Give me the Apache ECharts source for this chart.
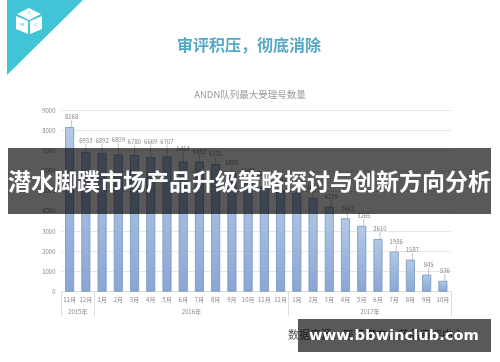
<!DOCTYPE html>
<html>
<head>
<meta charset="utf-8">
<style>
  html, body { margin: 0; padding: 0; background: #fff; }
  #chart { width: 500px; height: 362px; filter: blur(0.4px); }
</style>
<script src="https://cdn.jsdelivr.net/npm/echarts@6/dist/echarts.min.js"></script>
</head>
<body>
<div id="chart"></div>
<script>
const months = ['11月', '12月', '1月', '2月', '3月', '4月', '5月', '6月', '7月', '8月', '9月', '10月',
  '11月', '12月', '1月', '2月', '3月', '4月', '5月', '6月', '7月', '8月', '9月', '10月'];
const counts = [8168, 6933, 6892, 6809, 6780, 6669, 6707, 6454, 6450, 6331, 5885, 5507,
  5220, 5047, 4897, 4650, 4219, 3642, 3265, 2610, 1986, 1587, 845, 536];
const years = ['2015年', '2016年', '2017年'];
const yearStarts = [0, 2, 14, 24];

// extra lift for labels that sit higher than the rest, by bar index
const labelLift = { 1: 3, 2: 4, 3: 7, 4: 5, 5: 8, 6: 7, 7: 5, 12: 5 };

const chart = echarts.init(document.getElementById('chart'));
const cjk = '"Noto Sans CJK SC", sans-serif';

const yearMid = yearStarts.slice(0, -1).map((s, i) => (s + yearStarts[i + 1]) / 2);

chart.setOption({
  animation: false,
  backgroundColor: '#fff',
  title: [
    {
      text: '审评积压，彻底消除', left: 244, top: 32, textAlign: 'center',
      textStyle: { fontFamily: cjk, fontSize: 16, fontWeight: 'bold', color: '#55a8c6' }
    },
    {
      text: 'ANDN队列最大受理号数量', left: 245, top: 85, textAlign: 'center',
      textStyle: { fontFamily: cjk, fontSize: 9.5, fontWeight: 'normal', color: '#999' }
    }
  ],
  grid: { left: 61.5, right: 49, top: 110.3, bottom: 70.3 },
  xAxis: [
    {
      type: 'category',
      data: months,
      axisLine: { lineStyle: { color: '#ddd' } },
      axisTick: { show: false },
      axisLabel: { interval: 0, fontFamily: cjk, fontSize: 6, color: '#888', margin: 5 }
    },
    {
      // second row of the axis: year groups
      type: 'value',
      position: 'bottom',
      min: 0,
      max: 24,
      splitLine: { show: false },
      axisLine: { show: false },
      axisTick: { show: true, customValues: yearStarts, length: 25, lineStyle: { color: '#ddd' } },
      axisLabel: {
        customValues: yearMid,
        formatter: (v) => years[yearMid.indexOf(v)],
        fontFamily: cjk, fontSize: 6, color: '#888', margin: 17,
        showMinLabel: true, showMaxLabel: true
      }
    }
  ],
  yAxis: {
    type: 'value',
    min: 0,
    max: 9000,
    interval: 1000,
    axisLine: { show: false },
    axisTick: { show: false },
    axisLabel: {
      formatter: (v) => String(v),
      fontFamily: cjk, fontSize: 6, color: '#888', margin: 6
    },
    splitLine: { lineStyle: { color: '#e6e6e6' } }
  },
  series: [{
    type: 'bar',
    data: counts,
    barWidth: 9,
    itemStyle: {
      borderColor: '#7396c0',
      borderWidth: 0.8,
      color: new echarts.graphic.LinearGradient(0, 0, 0, 1, [
        { offset: 0, color: '#b3c9e6' },
        { offset: 1, color: '#8aa6d4' }
      ])
    },
    label: {
      show: true, position: 'top', distance: 5,
      fontFamily: cjk, fontSize: 6, color: '#888'
    },
    labelLine: { show: true, lineStyle: { color: '#aaa', width: 0.7 } },
    labelLayout: (p) => ({
      dy: -(labelLift[p.dataIndex] || 2),
      dx: p.dataIndex >= 16 || p.dataIndex === 0 ? 2 : 0
    })
  }],
  graphic: [
    // corner badge
    { type: 'polygon', z: 100, shape: { points: [[7, 0], [83, 0], [7, 75]] }, style: { fill: '#40c4d6' } },
    { type: 'polygon', z: 101, shape: { points: [[29, 8], [41, 14], [29, 20], [17, 14]] }, style: { fill: '#fff' } },
    { type: 'polygon', z: 101, shape: { points: [[16, 16], [28, 21], [28, 34], [16, 29]] }, style: { fill: '#fff' } },
    { type: 'polygon', z: 101, shape: { points: [[42, 16], [30, 21], [30, 34], [42, 29]] }, style: { fill: '#fff' } },
    { type: 'text', z: 102, style: { x: 29, y: 13, text: 'A', fill: '#40c4d6', font: '5px "Liberation Serif"', align: 'center', verticalAlign: 'middle' } },
    { type: 'text', z: 102, style: { x: 22, y: 25, text: 'M', fill: '#40c4d6', font: '5px "Liberation Serif"', align: 'center', verticalAlign: 'middle' } },
    { type: 'text', z: 102, style: { x: 36, y: 25, text: 'C', fill: '#40c4d6', font: '5px "Liberation Serif"', align: 'center', verticalAlign: 'middle' } },
    // source line, mostly hidden by the url box
    { type: 'text', z: 50, style: { x: 288, y: 335, text: '数据来源：医药魔方，药品审评中心', fill: '#555', font: '11px "Noto Sans CJK SC"', verticalAlign: 'middle' } },
    // headline band
    { type: 'rect', z: 110, shape: { x: 8, y: 148, width: 483, height: 66 }, style: { fill: 'rgba(0,0,0,0.65)' } },
    { type: 'text', z: 111, style: { x: 249.5, y: 181, text: '潜水脚蹼市场产品升级策略探讨与创新方向分析', fill: '#fff', font: 'bold 23px "Noto Sans CJK SC"', align: 'center', verticalAlign: 'middle' } },
    // url box
    { type: 'rect', z: 110, shape: { x: 298, y: 319, width: 193, height: 33 }, style: { fill: 'rgba(0,0,0,0.65)' } },
    { type: 'text', z: 111, style: { x: 394, y: 336, text: 'www.bbwinclub.com', fill: '#fff', font: 'bold 14.7px "DejaVu Sans"', align: 'center', verticalAlign: 'middle' } }
  ]
});
</script>
</body>
</html>
